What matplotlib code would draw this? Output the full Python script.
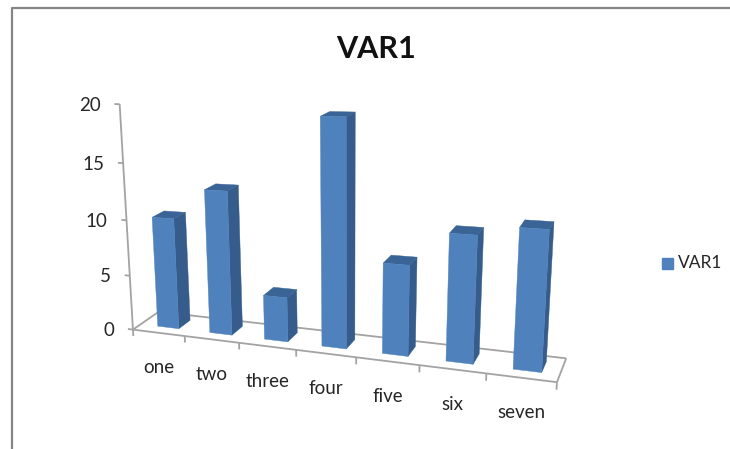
import numpy as np
import matplotlib
matplotlib.use("Agg")
import matplotlib.pyplot as plt

categories = ["one", "two", "three", "four", "five", "six", "seven"]
values = [10, 12.7, 3.9, 19.1, 7.6, 10.4, 11.2]
y_ticks = [0, 5, 10, 15, 20]
series_name = "VAR1"

FRONT = "#4F81BD"
SIDE = "#355C8A"
TOP = "#3A6496"
AXIS = "#A3A3A3"
FRAME = "#868686"
TEXT = "#262626"

plt.rcParams["font.family"] = ["Lato", "DejaVu Sans"]

# camera fit: (category pos, depth, value) -> pixel
# corners are listed more than once so the fit holds on to them
world = np.array([
    (0, 0, 0), (7, 0, 0), (0, 1, 0), (7, 1, 0),
    (1, 0, 0), (2, 0, 0), (3, 0, 0), (4, 0, 0), (5, 0, 0), (6, 0, 0),
    (0, 0, 5), (0, 0, 10), (0, 0, 15), (0, 0, 20),
    (2, 0, 20), (3.5, 0, 20), (5, 0, 20), (7, 0, 20),
    (0, 0, 20), (0, 0, 20), (0, 0, 20), (7, 0, 0), (7, 0, 0), (7, 1, 0),
], dtype=float)
pixel = np.array([
    (131, 327), (555, 383), (159, 309), (566, 360),
    (185, 335), (240, 342), (299, 350), (359, 358), (422, 366), (487, 375),
    (128, 275), (125, 220), (122, 164), (119, 106),
    (235, 107), (328, 107), (427, 106), (568, 107),
    (119, 106), (119, 106), (119, 106), (555, 383), (555, 383), (566, 360),
], dtype=float)


def fit_camera(w, p):
    rows, rhs = [], []
    for (x, d, z), (u, v) in zip(w, p):
        rows.append([x, d, z, 1, 0, 0, 0, 0, -u * x, -u * d, -u * z])
        rows.append([0, 0, 0, 0, x, d, z, 1, -v * x, -v * d, -v * z])
        rhs += [u, v]
    sol = np.linalg.lstsq(np.array(rows), np.array(rhs), rcond=None)[0]
    return np.append(sol, 1).reshape(3, 4)


CAM = fit_camera(world, pixel)


def project(x, d, z):
    u, v, s = CAM @ np.array([x, d, z, 1.0])
    return u / s, v / s


def seg(ax, a, b, lw=1.3, color=AXIS):
    pa, pb = project(*a), project(*b)
    ax.plot([pa[0], pb[0]], [pa[1], pb[1]], color=color, lw=lw, solid_capstyle="butt", zorder=1)


def face(ax, pts, color):
    xy = [project(*p) for p in pts]
    ax.fill([q[0] for q in xy], [q[1] for q in xy], color=color, lw=0.3, ec=color, zorder=3)


fig = plt.figure(figsize=(7.30, 4.49), dpi=100)
ax = fig.add_axes([0, 0, 1, 1])
ax.set_xlim(0, 730)
ax.set_ylim(449, 0)
ax.axis("off")

# outer chart frame, cut off at right and bottom
ax.plot([11.5, 11.5, 730], [449, 7.5, 7.5], color=FRAME, lw=1.6)

# floor and value axis
n = len(categories)
seg(ax, (0, 0, 0), (n, 0, 0))
seg(ax, (0, 1, 0), (n, 1, 0))
seg(ax, (0, 0, 0), (0, 1, 0))
seg(ax, (n, 0, 0), (n, 1, 0))
seg(ax, (0, 0, 0), (0, 0, max(y_ticks)))
for i in range(n + 1):
    seg(ax, (i, 0, 0), (i, 0, -0.6))
for t in y_ticks:
    seg(ax, (0, 0, t), (-0.1, 0, t))
    px, py = project(0, 0, t)
    ax.text(px - 19, py + 1, str(t), ha="right", va="center", fontsize=13.5, color=TEXT)

# bars, left to right
width = 0.41
d0, d1 = 0.3, 0.76
for i, val in enumerate(values):
    x0 = i + 0.54 - width / 2
    x1 = x0 + width
    face(ax, [(x1, d0, 0), (x1, d1, 0), (x1, d1, val), (x1, d0, val)], SIDE)
    face(ax, [(x0, d0, val), (x1, d0, val), (x1, d1, val), (x0, d1, val)], TOP)
    face(ax, [(x0, d0, 0), (x1, d0, 0), (x1, d0, val), (x0, d0, val)], FRONT)

for i, name in enumerate(categories):
    px, py = project(i + 0.5, 0, 0)
    ax.text(px, py + 35, name, ha="center", va="center", fontsize=13.5, color=TEXT)

ax.text(376, 49, series_name, ha="center", va="center", fontsize=22, fontweight="bold", color="#111111")

# legend
ax.fill([662, 672.5, 672.5, 662], [258, 258, 269, 269], color=FRONT)
ax.text(678, 263, series_name, ha="left", va="center", fontsize=12.5, color=TEXT)

fig.savefig("out.png", dpi=100)
plt.close(fig)
